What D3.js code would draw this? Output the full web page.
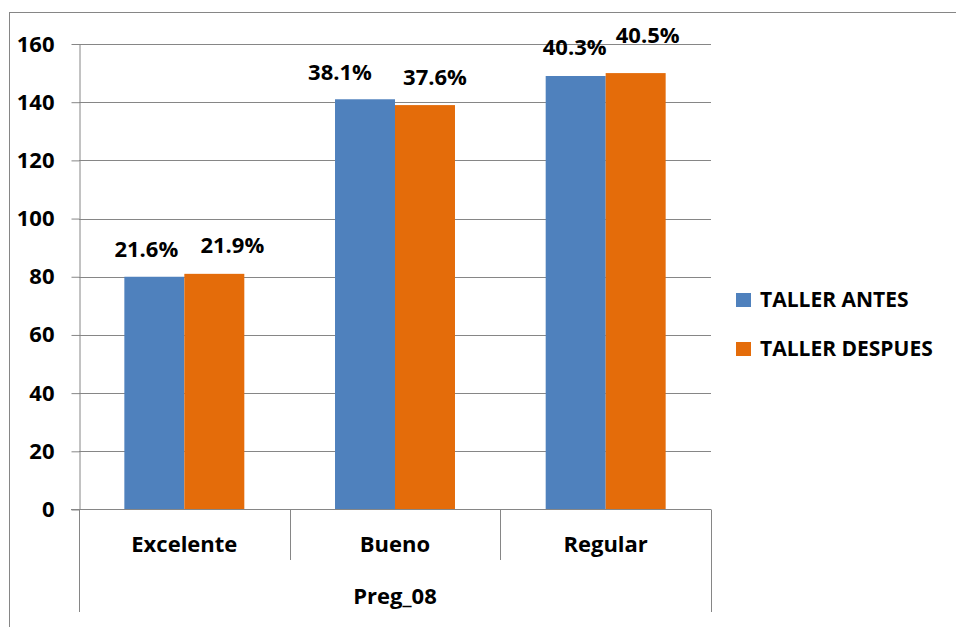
<!DOCTYPE html>
<html><head><meta charset="utf-8">
<script src="https://cdn.jsdelivr.net/npm/d3@7"></script>
<style>body{margin:0;background:#fff}svg{display:block}text{font-family:"Open Sans",Lato,sans-serif;font-weight:bold;fill:#000}</style>
</head><body>
<script>
const categories = ["Excelente", "Bueno", "Regular"];
const seriesNames = ["TALLER ANTES", "TALLER DESPUES"];
const antes = [80, 141, 149];
const despues = [81, 139, 150];
const antesLabels = ["21.6%", "38.1%", "40.3%"];
const despuesLabels = ["21.9%", "37.6%", "40.5%"];
const yTicks = [0, 20, 40, 60, 80, 100, 120, 140, 160];
const axisTitle = "Preg_08";
const colors = ["#4F81BD", "#E46C0A"];

// layout (manual label placement like the original)
const labelDx = [[-8, 18], [-25, 10], [-1, 12]];
const labelDy = [[-20, -21], [-19, -20], [-21, -30]];
const FS = 22;

const W = 956, H = 627;
const svg = d3.select("body").append("svg").attr("width", W).attr("height", H);
const grey = "#868686";
svg.append("rect").attr("x", 9.5).attr("y", 12.5).attr("width", 1200).attr("height", 1200)
  .attr("fill", "none").attr("stroke", grey);

const L = 79, R = 711, T = 44, B = 509.5;
const y = d3.scaleLinear().domain([0, 160]).range([B, T]);
const x0 = d3.scaleBand().domain(categories).range([L, R]);
const x1 = d3.scaleBand().domain(seriesNames).range([0, x0.bandwidth()]).paddingOuter(0.756);

// gridlines
svg.append("g").selectAll("line").data(yTicks.filter(d => d > 0)).join("line")
  .attr("x1", L).attr("x2", R).attr("y1", d => Math.round(y(d)) + 0.5).attr("y2", d => Math.round(y(d)) + 0.5)
  .attr("stroke", grey).attr("stroke-width", 1);

// y axis
const ya = svg.append("g").attr("transform", `translate(${L + 0.5},0)`)
  .call(d3.axisLeft(y).tickValues(yTicks).tickSize(8).tickPadding(17).tickSizeOuter(0));
ya.select(".domain").attr("stroke", grey);
ya.selectAll(".tick line").attr("stroke", grey);
ya.selectAll(".tick text").attr("font-size", FS).attr("font-family", "'Open Sans'").attr("font-weight", "bold").attr("fill", "#000");

// bars
const data = categories.map((c, i) => ({ c, vals: [antes[i], despues[i]], labs: [antesLabels[i], despuesLabels[i]], i }));
const gcat = svg.append("g").selectAll("g").data(data).join("g")
  .attr("transform", d => `translate(${x0(d.c)},0)`);
gcat.selectAll("rect").data(d => d.vals.map((v, k) => ({ v, k }))).join("rect")
  .attr("x", d => x1(seriesNames[d.k])).attr("width", x1.bandwidth())
  .attr("y", d => y(d.v)).attr("height", d => B - y(d.v)).attr("fill", d => colors[d.k]);
gcat.selectAll("text").data(d => d.vals.map((v, k) => ({ v, k, lab: d.labs[k], i: d.i }))).join("text")
  .attr("x", d => x1(seriesNames[d.k]) + x1.bandwidth() / 2 + labelDx[d.i][d.k])
  .attr("y", d => y(d.v) + labelDy[d.i][d.k])
  .attr("text-anchor", "middle").attr("font-size", FS).text(d => d.lab);

// category axis
svg.append("line").attr("x1", L - 8).attr("x2", R).attr("y1", B).attr("y2", B).attr("stroke", grey);
const bounds = [L, ...categories.slice(1).map(c => x0(c)), R];
svg.append("g").selectAll("line").data(bounds).join("line")
  .attr("x1", d => Math.round(d) + 0.5).attr("x2", d => Math.round(d) + 0.5)
  .attr("y1", B).attr("y2", (d, i) => (i === 0 || i === bounds.length - 1) ? 612 : 560)
  .attr("stroke", grey);
svg.append("g").selectAll("text").data(categories).join("text")
  .attr("x", d => x0(d) + x0.bandwidth() / 2).attr("y", 552)
  .attr("text-anchor", "middle").attr("font-size", FS).text(d => d);
svg.append("text").attr("x", (L + R) / 2).attr("y", 604).attr("text-anchor", "middle")
  .attr("font-size", FS).text(axisTitle);

// legend
const lg = svg.append("g").selectAll("g").data(seriesNames).join("g")
  .attr("transform", (d, i) => `translate(736,${293 + i * 49})`);
lg.append("rect").attr("width", 15).attr("height", 14).attr("fill", (d, i) => colors[i]);
lg.append("text").attr("x", 24).attr("y", 14).attr("font-size", 21).text(d => d);
</script>
</body></html>
